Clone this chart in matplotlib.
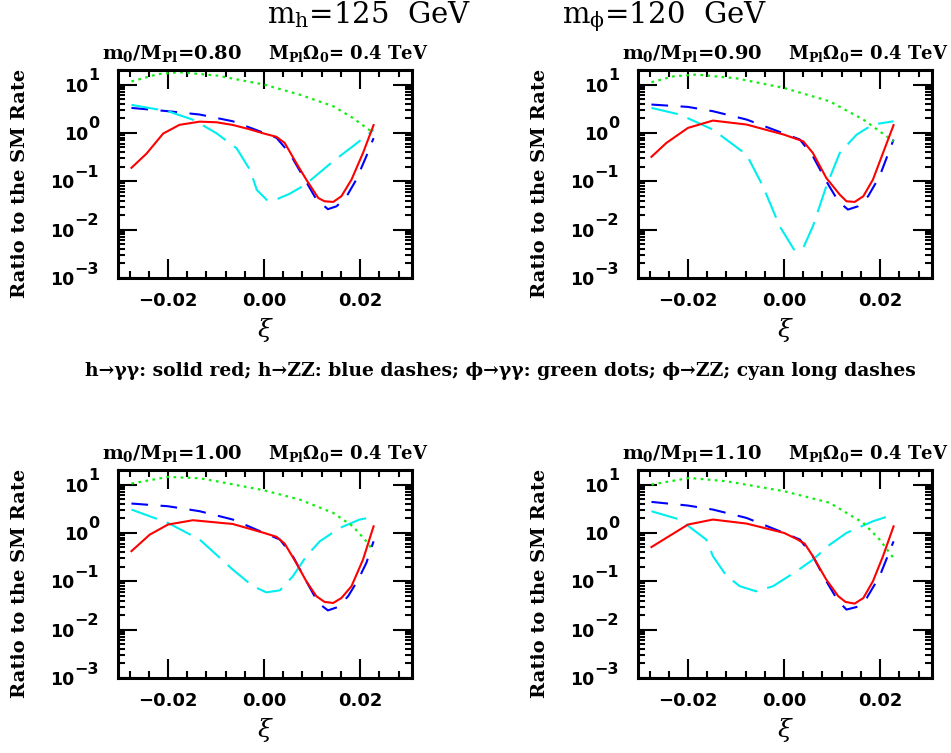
import numpy as np
import matplotlib
matplotlib.use("Agg")
import matplotlib.pyplot as plt
from matplotlib.ticker import LogLocator, FixedLocator, NullFormatter
from matplotlib.transforms import blended_transform_factory, offset_copy

plt.rcParams['font.family'] = ['DejaVu Serif']
plt.rcParams['mathtext.fontset'] = 'dejavuserif'

# ---- data (xi, ratio to SM rate) ----
# panel a: m0/MPl = 0.80
red_x_a = [-0.0276, -0.0245, -0.0210, -0.0176, -0.0134, -0.0099, -0.0065, -0.0033, 0.0, 0.0026, 0.0043,
           0.0067, 0.0088, 0.0113, 0.0126, 0.0144, 0.0161, 0.0182, 0.0206, 0.0228]
red_y_a = [0.19, 0.37, 0.97, 1.47, 1.71, 1.66, 1.46, 1.21, 0.97, 0.83, 0.62,
           0.24, 0.108, 0.045, 0.0386, 0.0374, 0.049, 0.108, 0.385, 1.45]
blue_x_a = [-0.0276, -0.0200, -0.0134, -0.0065, 0.0, 0.0026, 0.0053, 0.0081, 0.0109, 0.0133,
            0.0151, 0.0172, 0.0192, 0.0213, 0.0228]
blue_y_a = [3.29, 2.81, 2.4, 1.74, 1.0, 0.79, 0.385, 0.127, 0.042, 0.0265,
            0.0304, 0.049, 0.108, 0.33, 0.78]
green_x_a = [-0.0276, -0.0220, -0.0176, -0.0099, 0.0, 0.0074, 0.0144, 0.0185, 0.0213, 0.0228]
green_y_a = [11.6, 16.5, 18.0, 15.4, 10.0, 6.2, 3.56, 2.04, 1.27, 1.0]
cyan_x_a = [-0.0276, -0.0200, -0.0147, -0.0100, -0.0057, -0.0029, -0.0015, 0.0006, 0.0023, 0.0053,
            0.0085, 0.0144, 0.0185, 0.0228]
cyan_y_a = [3.8, 2.81, 1.86, 1.0, 0.48, 0.17, 0.066, 0.041, 0.041, 0.055,
            0.084, 0.26, 0.53, 1.15]

# panel b: m0/MPl = 0.90
red_x_b = [-0.0276, -0.0245, -0.0200, -0.0148, -0.0078, 0.0, 0.0040, 0.0060, 0.0088, 0.0116,
           0.0130, 0.0147, 0.0165, 0.0185, 0.0206, 0.0228]
red_y_b = [0.32, 0.62, 1.27, 1.8, 1.49, 0.92, 0.67, 0.385, 0.117, 0.053,
           0.0386, 0.0374, 0.049, 0.108, 0.385, 1.45]
blue_x_b = [-0.0276, -0.0200, -0.0148, -0.0078, 0.0, 0.0033, 0.0060, 0.0088, 0.0113, 0.0133,
            0.0154, 0.0175, 0.0199, 0.0228]
blue_y_b = [3.86, 3.45, 2.81, 1.89, 0.97, 0.73, 0.33, 0.1, 0.0386, 0.026,
            0.0304, 0.049, 0.127, 0.73]
green_x_b = [-0.0276, -0.0230, -0.0183, -0.0100, 0.0, 0.0095, 0.0165, 0.0199, 0.0228]
green_y_b = [11.2, 14.8, 16.1, 13.5, 8.5, 4.5, 1.89, 1.08, 0.67]
cyan_x_b = [-0.0276, -0.0217, -0.0148, -0.0078, -0.0044, -0.0009, 0.0022, 0.0040, 0.0060, 0.0088,
            0.0116, 0.0151, 0.0185, 0.0228]
cyan_y_b = [3.29, 2.4, 1.17, 0.356, 0.079, 0.0117, 0.0037, 0.0042, 0.0117, 0.079,
            0.385, 0.92, 1.49, 1.74]

# panel c: m0/MPl = 1.00
red_x_c = [-0.0276, -0.0238, -0.0200, -0.0148, -0.0065, 0.0, 0.0026, 0.0043, 0.0067, 0.0088,
           0.0109, 0.0126, 0.0144, 0.0161, 0.0182, 0.0206, 0.0228]
red_y_c = [0.42, 0.92, 1.49, 1.83, 1.53, 1.0, 0.83, 0.6, 0.24, 0.1,
           0.049, 0.0374, 0.0356, 0.045, 0.079, 0.28, 1.37]
blue_x_c = [-0.0276, -0.0200, -0.0134, -0.0065, 0.0, 0.0033, 0.0060, 0.0088, 0.0113, 0.0133,
            0.0154, 0.0175, 0.0196, 0.0213, 0.0228]
blue_y_c = [4.05, 3.56, 2.81, 1.89, 1.0, 0.73, 0.33, 0.1, 0.0356, 0.025,
            0.0294, 0.049, 0.108, 0.24, 0.67]
green_x_c = [-0.0276, -0.0200, -0.0134, -0.0099, 0.0, 0.0074, 0.0144, 0.0185, 0.0213, 0.0228]
green_y_c = [10.5, 14.4, 13.5, 11.7, 7.6, 4.9, 2.59, 1.37, 0.67, 0.42]
cyan_x_c = [-0.0276, -0.0200, -0.0134, -0.0065, -0.0023, 0.0005, 0.0033, 0.0060, 0.0088, 0.0116,
            0.0158, 0.0199, 0.0228]
cyan_y_c = [3.04, 1.61, 0.73, 0.174, 0.079, 0.059, 0.065, 0.127, 0.33, 0.67,
            1.27, 1.89, 2.14]

# panel d: m0/MPl = 1.10
red_x_d = [-0.0276, -0.0245, -0.0200, -0.0148, -0.0078, 0.0, 0.0026, 0.0043, 0.0060, 0.0088,
           0.0113, 0.0128, 0.0147, 0.0165, 0.0185, 0.0206, 0.0228]
red_y_d = [0.51, 0.79, 1.49, 1.89, 1.56, 1.0, 0.75, 0.6, 0.33, 0.108,
           0.049, 0.0374, 0.0345, 0.045, 0.1, 0.33, 1.37]
blue_x_d = [-0.0276, -0.0200, -0.0148, -0.0078, 0.0, 0.0033, 0.0060, 0.0088, 0.0113, 0.0130,
            0.0151, 0.0172, 0.0199, 0.0228]
blue_y_d = [4.38, 3.68, 3.04, 2.04, 1.0, 0.73, 0.33, 0.1, 0.0386, 0.026,
            0.0294, 0.045, 0.127, 0.67]
green_x_d = [-0.0276, -0.0197, -0.0120, 0.0, 0.0095, 0.0165, 0.0199, 0.0228]
green_y_d = [10.0, 13.7, 11.7, 7.3, 4.2, 1.61, 0.73, 0.30]
cyan_x_d = [-0.0276, -0.0217, -0.0162, -0.0148, -0.0120, -0.0092, -0.0058, -0.0023, 0.0026, 0.0060,
            0.0095, 0.0130, 0.0185, 0.0228]
cyan_y_d = [2.81, 1.89, 0.73, 0.33, 0.13, 0.079, 0.062, 0.079, 0.161, 0.28,
            0.57, 1.0, 1.74, 2.4]

m0_ratios = ['0.80', '0.90', '1.00', '1.10']
decades = [-3, -2, -1, 0, 1]
x_ticks = [-0.02, 0.0, 0.02]
x_ticklabels = ['\u22120.02', '0.00', '0.02']

panels = [
    (red_x_a, red_y_a, blue_x_a, blue_y_a, green_x_a, green_y_a, cyan_x_a, cyan_y_a),
    (red_x_b, red_y_b, blue_x_b, blue_y_b, green_x_b, green_y_b, cyan_x_b, cyan_y_b),
    (red_x_c, red_y_c, blue_x_c, blue_y_c, green_x_c, green_y_c, cyan_x_c, cyan_y_c),
    (red_x_d, red_y_d, blue_x_d, blue_y_d, green_x_d, green_y_d, cyan_x_d, cyan_y_d),
]

W, H = 951, 753
fig = plt.figure(figsize=(W / 100, H / 100), dpi=100)

# axes boxes in pixels: left, top
boxes = [(118, 70), (638, 70), (118, 470), (638, 470)]
bw, bh = 294, 208
tick_font = dict(family='DejaVu Sans', weight='bold')

axes = []
exp_texts = []
for i, (box, data) in enumerate(zip(boxes, panels)):
    left, top = box
    ax = fig.add_axes([left / W, 1 - (top + bh) / H, bw / W, bh / H])
    axes.append(ax)
    rx, ry, bx, by, gx, gy, cx, cy = data
    ax.plot(bx, by, color='#0000ff', lw=1.5, ls=(0, (8, 6)))
    ax.plot(cx, cy, color='#00eeee', lw=1.5, ls=(0, (13, 5)))
    ax.plot(gx, gy, color='#11ee11', lw=1.6, ls=(0, (1.2, 2)))
    ax.plot(rx, ry, color='#ff0000', lw=1.5)

    ax.set_yscale('log')
    ax.set_xlim(-0.0304, 0.0308)
    ax.set_ylim(1e-3, 20)
    ax.xaxis.set_major_locator(FixedLocator(x_ticks))
    ax.xaxis.set_minor_locator(FixedLocator(np.arange(-0.028, 0.0301, 0.004)))
    ax.set_xticklabels(x_ticklabels)
    ax.yaxis.set_major_locator(LogLocator(base=10, numticks=10))
    ax.yaxis.set_minor_locator(LogLocator(base=10, subs=np.arange(2, 10), numticks=20))
    ax.yaxis.set_major_formatter(NullFormatter())
    ax.yaxis.set_minor_formatter(NullFormatter())
    ax.tick_params(which='both', direction='in', top=True, right=True, width=1.5)
    ax.tick_params(which='major', length=13.5)
    ax.tick_params(which='minor', length=5)
    ax.tick_params(axis='x', which='major', pad=10)
    for lab in ax.get_xticklabels():
        lab.set_fontsize(13)
        lab.set_fontfamily('DejaVu Sans')
        lab.set_fontweight('bold')
    for sp in ax.spines.values():
        sp.set_linewidth(2.2)

    # y tick labels as 10 with a large exponent
    trans = blended_transform_factory(ax.transAxes, ax.transData)
    row = []
    for d in decades:
        exp_str = str(d).replace('-', '\u2212')
        t = ax.text(0, 10.0 ** d, exp_str, transform=offset_copy(trans, x=-19, y=9, units='dots'),
                    ha='right', va='center', fontsize=11.5, **tick_font)
        row.append((d, t))
    exp_texts.append(row)

    # panel texts
    fig.text((left - 16) / W, 1 - (top - 11) / H,
             r'$\mathregular{m_0/M_{Pl}}$=' + m0_ratios[i],
             fontsize=14, fontweight='bold', va='baseline', ha='left')
    fig.text((left + 150) / W, 1 - (top - 11) / H,
             r'$\mathregular{M_{Pl}\Omega_0}$= 0.4 TeV',
             fontsize=13, fontweight='bold', va='baseline', ha='left')
    fig.text((left - 98) / W, 1 - (top + 113) / H, 'Ratio to the SM Rate',
             rotation=90, fontsize=14, fontweight='bold', ha='center', va='center')
    fig.text((left + 147) / W, 1 - (top + 260) / H, r'$\xi$',
             fontsize=18, ha='center', va='center')

# place the "10" bases just left of the measured exponents
fig.canvas.draw()
renderer = fig.canvas.get_renderer()
for ax, row in zip(axes, exp_texts):
    trans = blended_transform_factory(ax.transAxes, ax.transData)
    for d, t in row:
        w = t.get_window_extent(renderer).width
        ax.text(0, 10.0 ** d, '10', transform=offset_copy(trans, x=-19 - w, y=-2, units='dots'),
                ha='right', va='center', fontsize=12.5, **tick_font)

fig.text(267 / W, 1 - 23 / H, r'$\mathregular{m_h}$=125  GeV', fontsize=21, va='baseline', ha='left')
fig.text(562 / W, 1 - 23 / H, r'$\mathregular{m_\phi}$=120  GeV', fontsize=21, va='baseline', ha='left')

fig.text(500 / W, 1 - 371 / H,
         'h\u2192\u03b3\u03b3: solid red; h\u2192ZZ: blue dashes; \u03d5\u2192\u03b3\u03b3: green dots; '
         '\u03d5\u2192ZZ; cyan long dashes',
         fontsize=13.5, fontweight='bold', ha='center', va='center')

fig.savefig('out.png', dpi=100)
